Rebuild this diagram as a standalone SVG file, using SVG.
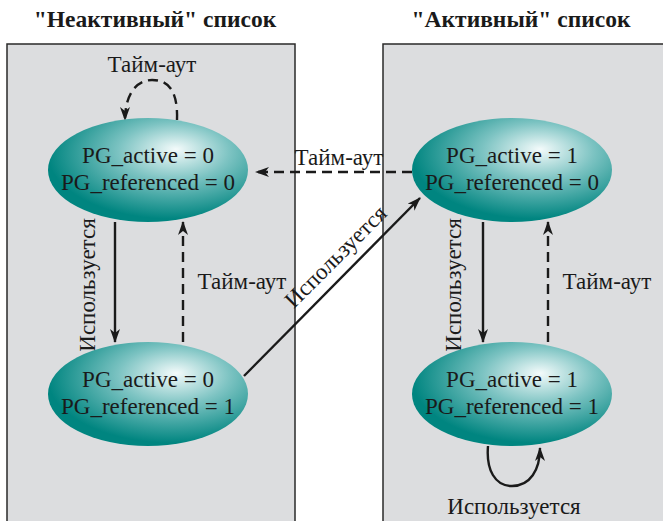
<svg xmlns="http://www.w3.org/2000/svg" width="663" height="521" viewBox="0 0 663 521">
<defs>
<radialGradient id="g" cx="0.62" cy="0.35" r="0.62" fx="0.64" fy="0.3">
<stop offset="0" stop-color="#f4fbfb"/>
<stop offset="0.45" stop-color="#7cc3c2"/>
<stop offset="1" stop-color="#008580"/>
</radialGradient>
<marker id="ah" viewBox="0 0 14 10" refX="13" refY="5" markerWidth="14" markerHeight="10" markerUnits="userSpaceOnUse" orient="auto">
<path d="M0,0 L14,5 L0,10 L4,5 Z" fill="#1a1a1a"/>
</marker>
<style>
.panel{fill:#dcdddf;stroke:#2a2a2a;stroke-width:1.5}
.node{fill:url(#g)}
.nt{font-family:'Liberation Serif','Times New Roman',serif;font-size:23px;fill:#1a1a1a;text-anchor:middle}
.lbl{font-family:'Liberation Serif','Times New Roman',serif;font-size:23px;fill:#1a1a1a;text-anchor:middle}
.hd{font-family:'Liberation Serif','Times New Roman',serif;font-size:23.5px;font-weight:bold;fill:#1a1a1a;text-anchor:middle}
.s{fill:none;stroke:#1a1a1a;stroke-width:2.4;marker-end:url(#ah)}
.d{fill:none;stroke:#1a1a1a;stroke-width:2.4;stroke-dasharray:10,6;marker-end:url(#ah)}
</style>
</defs>
<rect width="663" height="521" fill="#ffffff"/>
<text class="hd" x="155" y="27">"Неактивный" список</text>
<text class="hd" x="521" y="27">"Активный" список</text>
<rect class="panel" x="7" y="44" width="288" height="490"/>
<rect class="panel" x="383" y="44" width="290" height="490"/>
<g id="connectors">
<path class="d" d="M177,120 C178,90 168,80 152,80 C136,80 125,95 125,120"/>
<path class="d" d="M412,172 L256,172"/>
<path class="s" d="M115,222 L115,342"/>
<path class="d" d="M183,342 L183,222"/>
<path class="s" d="M244,376 L420,198"/>
<path class="s" d="M483,222 L483,342"/>
<path class="d" d="M548,342 L548,222"/>
<path class="s" d="M488,446 C486,470 495,486 512,486 C530,486 540,470 540,448"/>
</g>
<g id="labels">
<text class="lbl" x="152" y="72">Тайм-аут</text>
<text class="lbl" x="339" y="165">Тайм-аут</text>
<text class="lbl" transform="translate(95,285) rotate(-90)">Используется</text>
<text class="lbl" x="242" y="289">Тайм-аут</text>
<text class="lbl" transform="translate(341,262) rotate(-45)">Используется</text>
<text class="lbl" transform="translate(461,285) rotate(-90)">Используется</text>
<text class="lbl" x="607" y="289">Тайм-аут</text>
<text class="lbl" x="514" y="514">Используется</text>
</g>
<g id="n_inactive0">
<ellipse class="node" cx="148" cy="170" rx="100" ry="52"/>
<text class="nt" x="148" y="163">PG_active = 0</text>
<text class="nt" x="148" y="190">PG_referenced = 0</text>
</g>
<g id="n_inactive1">
<ellipse class="node" cx="148" cy="394" rx="100" ry="52"/>
<text class="nt" x="148" y="387">PG_active = 0</text>
<text class="nt" x="148" y="414">PG_referenced = 1</text>
</g>
<g id="n_active0">
<ellipse class="node" cx="512" cy="170" rx="100" ry="52"/>
<text class="nt" x="512" y="163">PG_active = 1</text>
<text class="nt" x="512" y="190">PG_referenced = 0</text>
</g>
<g id="n_active1">
<ellipse class="node" cx="512" cy="394" rx="100" ry="52"/>
<text class="nt" x="512" y="387">PG_active = 1</text>
<text class="nt" x="512" y="414">PG_referenced = 1</text>
</g>
</svg>
